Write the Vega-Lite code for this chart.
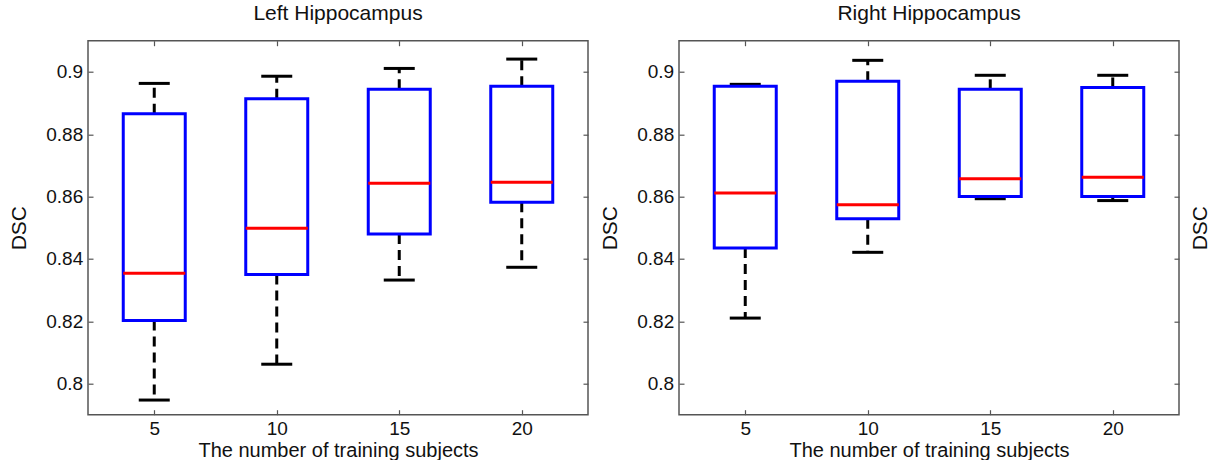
{
  "$schema": "https://vega.github.io/schema/vega-lite/v6.json",
  "autosize": {"type": "none"},
  "padding": {"left": 88, "top": 40.7, "right": 1128, "bottom": 419.3},
  "background": "white",
  "spacing": 91,
  "bounds": "flush",
  "config": {
    "font": "Liberation Sans",
    "view": {"stroke": "#555555", "strokeWidth": 1.5},
    "axis": {
      "grid": false,
      "domain": false,
      "tickColor": "#555555",
      "tickWidth": 1.2,
      "tickSize": -5,
      "labelFont": "Liberation Sans",
      "labelFontSize": 19,
      "labelColor": "#111111",
      "titleFont": "Liberation Sans",
      "titleFontSize": 21,
      "titleFontWeight": "normal",
      "titleColor": "#111111"
    },
    "title": {"font": "Liberation Sans", "fontSize": 21, "fontWeight": "normal", "color": "#111111", "baseline": "alphabetic", "offset": 15.7}
  },
  "datasets": {
    "box": [
      {"side": "Left", "n": 5, "lower": 0.7947, "q1": 0.8202, "median": 0.8354, "q3": 0.8866, "upper": 0.8963},
      {"side": "Left", "n": 10, "lower": 0.8062, "q1": 0.8350, "median": 0.8498, "q3": 0.8914, "upper": 0.8986},
      {"side": "Left", "n": 15, "lower": 0.8332, "q1": 0.8480, "median": 0.8643, "q3": 0.8944, "upper": 0.9011},
      {"side": "Left", "n": 20, "lower": 0.8373, "q1": 0.8582, "median": 0.8646, "q3": 0.8954, "upper": 0.9041},
      {"side": "Right", "n": 5, "lower": 0.8210, "q1": 0.8435, "median": 0.8611, "q3": 0.8954, "upper": 0.8960},
      {"side": "Right", "n": 10, "lower": 0.8421, "q1": 0.8529, "median": 0.8574, "q3": 0.8970, "upper": 0.9037},
      {"side": "Right", "n": 15, "lower": 0.8593, "q1": 0.8600, "median": 0.8657, "q3": 0.8944, "upper": 0.8989},
      {"side": "Right", "n": 20, "lower": 0.8587, "q1": 0.8600, "median": 0.8662, "q3": 0.8950, "upper": 0.8989}
    ]
  },
  "data": {"name": "box"},
  "hconcat": [
    {
      "title": {"text": "Left Hippocampus"},
      "width": 500,
      "height": 374,
      "transform": [{"filter": "datum.side === 'Left'"}],
      "resolve": {"axis": {"x": "independent", "y": "independent"}},
      "layer": [
        {
          "mark": {"type": "rule", "color": "black", "strokeWidth": 3, "strokeDash": [10, 6]},
          "encoding": {
            "x": {"field": "n", "type": "quantitative", "scale": {"domain": [2.5, 22.5], "nice": false, "zero": false}, "axis": null},
            "y": {"field": "q3", "type": "quantitative", "scale": {"domain": [0.79, 0.91], "nice": false, "zero": false}, "axis": null},
            "y2": {"field": "upper"}
          }
        },
        {
          "mark": {"type": "rule", "color": "black", "strokeWidth": 3, "strokeDash": [10, 6]},
          "encoding": {
            "x": {"field": "n", "type": "quantitative", "axis": null},
            "y": {"field": "q1", "type": "quantitative", "axis": null},
            "y2": {"field": "lower"}
          }
        },
        {
          "mark": {"type": "tick", "orient": "horizontal", "color": "black", "size": 31, "thickness": 3, "opacity": 1},
          "encoding": {
            "x": {"field": "n", "type": "quantitative", "axis": null},
            "y": {"field": "upper", "type": "quantitative", "axis": null}
          }
        },
        {
          "mark": {"type": "tick", "orient": "horizontal", "color": "black", "size": 31, "thickness": 3, "opacity": 1},
          "encoding": {
            "x": {"field": "n", "type": "quantitative", "axis": null},
            "y": {"field": "lower", "type": "quantitative", "axis": null}
          }
        },
        {
          "mark": {"type": "bar", "filled": false, "stroke": "#0000ff", "strokeWidth": 3, "size": 62},
          "encoding": {
            "x": {"field": "n", "type": "quantitative", "axis": {"values": [5, 10, 15, 20], "orient": "bottom", "title": "The number of training subjects", "labelPadding": 9.5, "titleFontSize": 20, "titleBaseline": "alphabetic", "titleY": 41.5, "titleX": 250}},
            "y": {"field": "q1", "type": "quantitative", "axis": {"values": [0.8, 0.82, 0.84, 0.86, 0.88, 0.9], "format": ".2~f", "orient": "left", "title": "DSC", "labelPadding": 10.3, "titleAngle": 270, "titleBaseline": "middle", "titleAlign": "center", "titleX": -69, "titleY": 187}},
            "y2": {"field": "q3"}
          }
        },
        {
          "mark": {"type": "tick", "orient": "horizontal", "color": "#ff0000", "size": 62, "thickness": 3, "opacity": 1},
          "encoding": {
            "x": {"field": "n", "type": "quantitative", "axis": {"values": [5, 10, 15, 20], "orient": "top", "labels": false, "title": null}},
            "y": {"field": "median", "type": "quantitative", "axis": {"values": [0.8, 0.82, 0.84, 0.86, 0.88, 0.9], "orient": "right", "labels": false, "title": null}}
          }
        }
      ]
    },
    {
      "title": {"text": "Right Hippocampus"},
      "width": 500,
      "height": 374,
      "transform": [{"filter": "datum.side === 'Right'"}],
      "resolve": {"axis": {"x": "independent", "y": "independent"}},
      "layer": [
        {
          "mark": {"type": "rule", "color": "black", "strokeWidth": 3, "strokeDash": [10, 6]},
          "encoding": {
            "x": {"field": "n", "type": "quantitative", "scale": {"domain": [2.5, 22.5], "nice": false, "zero": false}, "axis": null},
            "y": {"field": "q3", "type": "quantitative", "scale": {"domain": [0.79, 0.91], "nice": false, "zero": false}, "axis": null},
            "y2": {"field": "upper"}
          }
        },
        {
          "mark": {"type": "rule", "color": "black", "strokeWidth": 3, "strokeDash": [10, 6]},
          "encoding": {
            "x": {"field": "n", "type": "quantitative", "axis": null},
            "y": {"field": "q1", "type": "quantitative", "axis": null},
            "y2": {"field": "lower"}
          }
        },
        {
          "mark": {"type": "tick", "orient": "horizontal", "color": "black", "size": 31, "thickness": 3, "opacity": 1},
          "encoding": {
            "x": {"field": "n", "type": "quantitative", "axis": null},
            "y": {"field": "upper", "type": "quantitative", "axis": null}
          }
        },
        {
          "mark": {"type": "tick", "orient": "horizontal", "color": "black", "size": 31, "thickness": 3, "opacity": 1},
          "encoding": {
            "x": {"field": "n", "type": "quantitative", "axis": null},
            "y": {"field": "lower", "type": "quantitative", "axis": null}
          }
        },
        {
          "mark": {"type": "bar", "filled": false, "stroke": "#0000ff", "strokeWidth": 3, "size": 62},
          "encoding": {
            "x": {"field": "n", "type": "quantitative", "axis": {"values": [5, 10, 15, 20], "orient": "bottom", "title": "The number of training subjects", "labelPadding": 9.5, "titleFontSize": 20, "titleBaseline": "alphabetic", "titleY": 41.5, "titleX": 250}},
            "y": {"field": "q1", "type": "quantitative", "axis": {"values": [0.8, 0.82, 0.84, 0.86, 0.88, 0.9], "format": ".2~f", "orient": "left", "title": "DSC", "labelPadding": 10.3, "titleAngle": 270, "titleBaseline": "middle", "titleAlign": "center", "titleX": -69, "titleY": 187}},
            "y2": {"field": "q3"}
          }
        },
        {
          "mark": {"type": "tick", "orient": "horizontal", "color": "#ff0000", "size": 62, "thickness": 3, "opacity": 1},
          "encoding": {
            "x": {"field": "n", "type": "quantitative", "axis": {"values": [5, 10, 15, 20], "orient": "top", "labels": false, "title": null}},
            "y": {"field": "median", "type": "quantitative", "axis": {"values": [0.8, 0.82, 0.84, 0.86, 0.88, 0.9], "orient": "right", "labels": false, "title": "DSC", "titleAngle": 270, "titleBaseline": "middle", "titleAlign": "center", "titleX": 21.7, "titleY": 187}}
          }
        }
      ]
    }
  ]
}
